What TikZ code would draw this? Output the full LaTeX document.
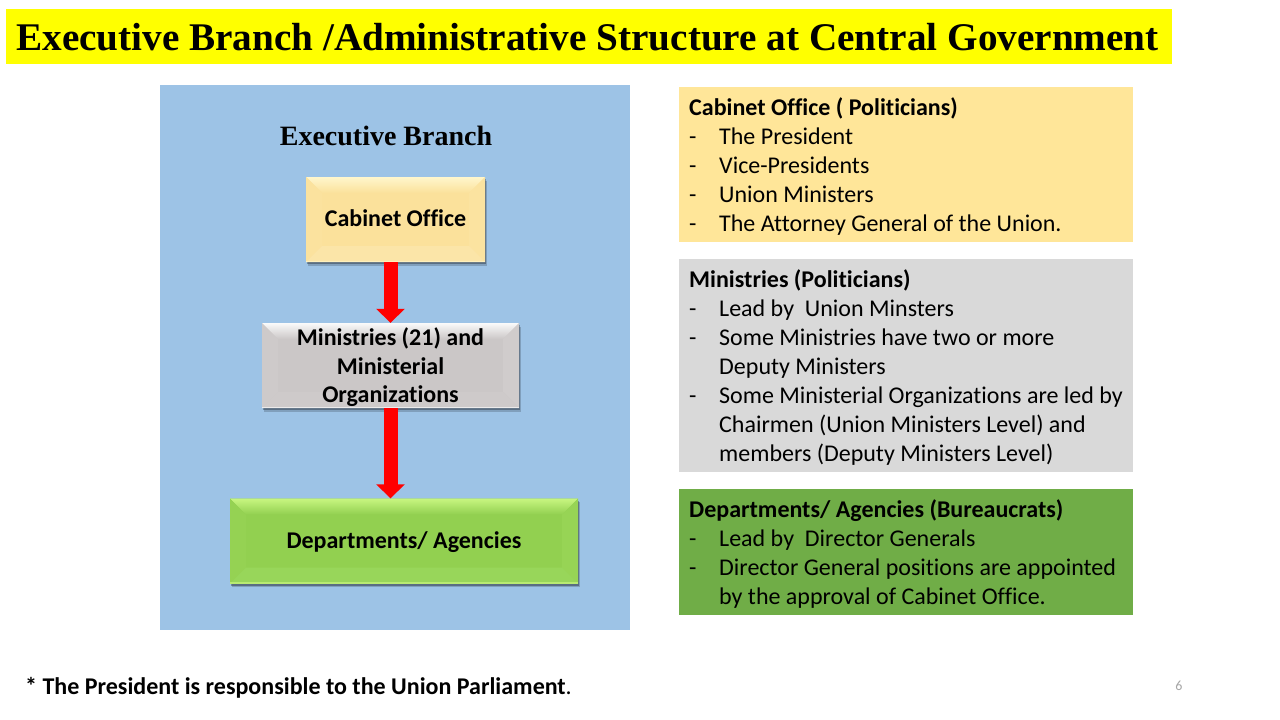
\documentclass[tikz,border=0pt]{standalone}
\usepackage{fontspec}
\setmainfont[Ligatures=NoCommon]{Carlito}
\newfontfamily\palfont{Liberation Serif}
\usetikzlibrary{shadows,arrows.meta,calc}
\definecolor{titleyellow}{HTML}{FFFF00}
\definecolor{arrowred}{HTML}{FF0000}
\definecolor{panelblue}{HTML}{9DC3E6}
\definecolor{cabmain}{HTML}{FBE19B}
\definecolor{cabtop}{HTML}{FFF6CC}
\definecolor{cabbot}{HTML}{FBE5A8}
\definecolor{minmain}{HTML}{CBC7C7}
\definecolor{mintop}{HTML}{FAFAFA}
\definecolor{minbot}{HTML}{CECACA}
\definecolor{depmain}{HTML}{92D050}
\definecolor{deptop}{HTML}{C8F680}
\definecolor{depbot}{HTML}{98D65A}
\definecolor{infoyellow}{HTML}{FFE699}
\definecolor{infogrey}{HTML}{D9D9D9}
\definecolor{infogreen}{HTML}{70AD47}
\definecolor{pagegrey}{HTML}{A6A6A6}
\newcommand{\dashitem}[1]{\leavevmode\hangindent=35pt\hangafter=1\hbox to 35pt{\hskip5pt-\hfil}#1\par}
\newcommand{\headitem}[1]{\spaceskip=0pt\xspaceskip=0pt\leavevmode\hskip5pt\rule{0pt}{22pt}\textbf{#1}\par}
\newcommand{\lowerby}[2]{\raisebox{#1pt}[\height][\depth]{#2}}
\tikzset{
  bevelbox/.style n args={3}{
    rectangle, inner sep=0pt, align=center, font=\fontsize{24}{29}\selectfont\bfseries,
    fill=#1,
    drop shadow={shadow xshift=2pt,shadow yshift=-3.5pt,opacity=.18,fill=black},
    drop shadow={shadow xshift=1pt,shadow yshift=-2pt,opacity=.3,fill=black},
    path picture={
      \coordinate (tl) at (path picture bounding box.north west);
      \coordinate (tr) at (path picture bounding box.north east);
      \coordinate (bl) at (path picture bounding box.south west);
      \coordinate (br) at (path picture bounding box.south east);
      \fill[top color=#2,bottom color=#1] (tl) -- (tr) -- ($(tr)+(-16pt,-16pt)$) -- ($(tl)+(16pt,-16pt)$) -- cycle;
      \fill[#1!94!#2] (tl) -- ($(tl)+(16pt,-16pt)$) -- ($(bl)+(16pt,16pt)$) -- (bl) -- cycle;
      \fill[#1!90!#2] (tr) -- ($(tr)+(-16pt,-16pt)$) -- ($(br)+(-16pt,16pt)$) -- (br) -- cycle;
      \fill[#3] (bl) -- ($(bl)+(16pt,16pt)$) -- ($(br)+(-16pt,16pt)$) -- (br) -- cycle;
      \fill[#2!70!#1] (bl) rectangle ($(br)+(0pt,1.2pt)$);
    }},
  infopanel/.style={
    rectangle, anchor=north west, minimum width=454pt, text width=444pt,
    inner xsep=5pt, inner ysep=0pt, align=left,
    font=\fontsize{24}{29}\selectfont},
  redarrow/.style={draw=arrowred, line width=14pt,
    -{Triangle[width=28pt,length=14pt]}},
  heading/.style={inner sep=0pt, font=\palfont\bfseries}
}
\begin{document}
\begin{tikzpicture}[x=1pt,y=-1pt]
\useasboundingbox (0,0) rectangle (1280,720);
\fill[white] (0,0) rectangle (1280,720);
\fill[titleyellow] (6,9) rectangle (1172,64);
\fill[panelblue] (160,85) rectangle (630,630);
\node[heading, font=\palfont\bfseries\fontsize{39.2}{42}\selectfont] (title) at (587.5,37) {Executive Branch /Administrative Structure at Central Government};
\node[heading, font=\palfont\bfseries\fontsize{28}{32}\selectfont] (exec) at (386,136) {Executive Branch};

\node[bevelbox={cabmain}{cabtop}{cabbot}, minimum width=179pt, minimum height=85pt] (cab) at (395.5,219.5) {\lowerby{1}{Cabinet Office}};
\node[bevelbox={minmain}{mintop}{minbot}, minimum width=257pt, minimum height=85pt] (min) at (390.5,365.5) {\lowerby{-2}{Ministries (21) and}\\\lowerby{-2}{Ministerial}\\\lowerby{-1.5}{Organizations}};
\node[bevelbox={depmain}{deptop}{depbot}, minimum width=348pt, minimum height=85pt] (dep) at (404,541) {\lowerby{-1.5}{Departments/ Agencies}};
\draw[redarrow] (cab.south -| min.north) -- (min.north);
\draw[redarrow] (min.south) -- (min.south |- dep.north);

\node[infopanel, fill=infoyellow, minimum height=155pt] (p1) at (679,87) {\headitem{Cabinet Office ( Politicians)}
\dashitem{The President}\dashitem{Vice-Presidents}\dashitem{Union Ministers}\dashitem{The Attorney General of the Union.}};
\node[infopanel, fill=infogrey, minimum height=213pt] (p2) at (679,259) {\headitem{Ministries (Politicians)}
\dashitem{Lead by\ \ Union Minsters}\dashitem{Some Ministries have two or more\newline Deputy Ministers}\dashitem{Some Ministerial Organizations are led by\newline Chairmen (Union Ministers Level) and\newline members (Deputy Ministers Level)}};
\node[infopanel, fill=infogreen, minimum height=126pt] (p3) at (679,489) {\headitem{Departments/ Agencies (Bureaucrats)}
\dashitem{Lead by\ \ Director Generals}\dashitem{Director General positions are appointed\newline by the approval of Cabinet Office.}};

\node[anchor=west, inner sep=0pt, font=\fontsize{24}{28}\selectfont] (foot) at (25,688) {\textbf{* The President is responsible to the Union Parliament}.};
\node[inner sep=0pt, text=pagegrey, font=\fontsize{14}{16}\selectfont] (page) at (1179,686) {6};
\end{tikzpicture}
\end{document}
